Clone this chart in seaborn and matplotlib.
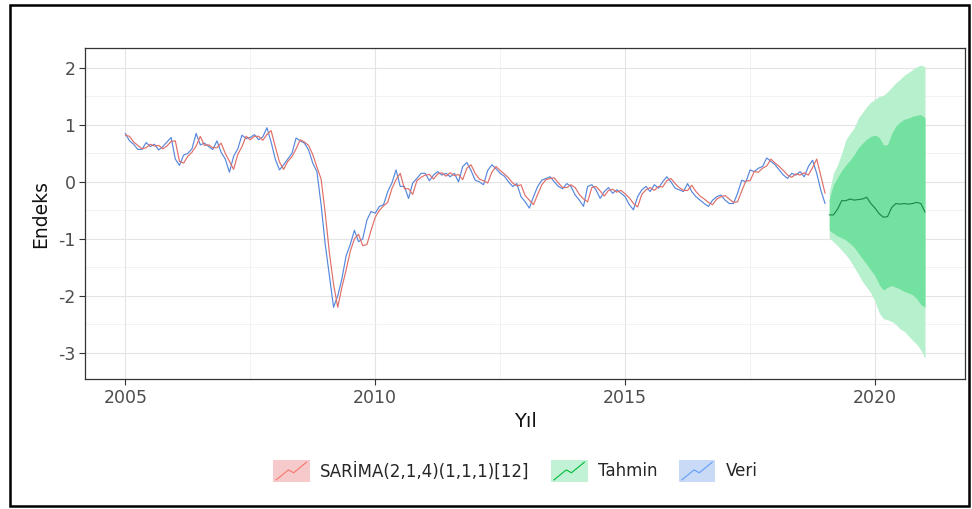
import numpy as np
import pandas as pd
import matplotlib
matplotlib.use("Agg")
import matplotlib.pyplot as plt
import seaborn as sns
from matplotlib.legend_handler import HandlerBase
from matplotlib.patches import Rectangle, Patch
from matplotlib.lines import Line2D
from matplotlib.ticker import MultipleLocator

# ---- data -------------------------------------------------------------
# monthly index values, 2005-01 .. 2019-01
veri = [
    0.85, 0.72, 0.66, 0.57, 0.57, 0.69, 0.62, 0.66, 0.56, 0.62, 0.70, 0.78,
    0.40, 0.29, 0.47, 0.50, 0.58, 0.85, 0.65, 0.68, 0.62, 0.57, 0.72, 0.52,
    0.40, 0.17, 0.45, 0.58, 0.82, 0.76, 0.78, 0.83, 0.74, 0.79, 0.95, 0.70,
    0.40, 0.21, 0.30, 0.40, 0.50, 0.77, 0.72, 0.68, 0.56, 0.33, 0.18, -0.40,
    -1.10, -1.65, -2.20, -2.00, -1.70, -1.30, -1.10, -0.85, -1.05, -1.00, -0.67, -0.52,
    -0.55, -0.43, -0.40, -0.17, -0.02, 0.21, -0.08, -0.08, -0.29, -0.02, 0.06, 0.15,
    0.15, 0.02, 0.12, 0.18, 0.12, 0.15, 0.09, 0.15, 0.00, 0.27, 0.34, 0.20,
    0.03, 0.00, -0.05, 0.20, 0.30, 0.23, 0.15, 0.10, 0.00, -0.08, -0.03, -0.26,
    -0.35, -0.46, -0.26, -0.08, 0.03, 0.06, 0.09, 0.00, -0.08, -0.12, -0.03, -0.08,
    -0.23, -0.32, -0.43, -0.08, -0.05, -0.14, -0.29, -0.17, -0.10, -0.20, -0.14, -0.20,
    -0.26, -0.40, -0.49, -0.26, -0.14, -0.08, -0.17, -0.05, -0.11, 0.00, 0.09, 0.00,
    -0.11, -0.14, -0.17, -0.03, -0.17, -0.26, -0.32, -0.38, -0.43, -0.32, -0.26, -0.23,
    -0.32, -0.38, -0.38, -0.20, 0.03, 0.00, 0.21, 0.18, 0.24, 0.27, 0.42, 0.36,
    0.30, 0.21, 0.12, 0.06, 0.15, 0.12, 0.18, 0.09, 0.27, 0.38, 0.15, -0.15,
    -0.38,
]

# in-sample fitted values of the SARIMA model, same months
sarima = [
    0.82, 0.80, 0.70, 0.64, 0.58, 0.60, 0.66, 0.63, 0.64, 0.58, 0.63, 0.71,
    0.72, 0.36, 0.33, 0.45, 0.52, 0.63, 0.80, 0.64, 0.65, 0.60, 0.60, 0.68,
    0.50, 0.36, 0.22, 0.48, 0.62, 0.80, 0.74, 0.80, 0.80, 0.73, 0.83, 0.90,
    0.62, 0.35, 0.22, 0.36, 0.44, 0.58, 0.74, 0.70, 0.64, 0.48, 0.26, 0.05,
    -0.55, -1.25, -1.80, -2.20, -1.85, -1.55, -1.22, -1.00, -0.92, -1.12, -1.10, -0.85,
    -0.62, -0.50, -0.42, -0.36, -0.12, 0.04, 0.15, -0.12, -0.12, -0.22, 0.02, 0.08,
    0.12, 0.13, 0.05, 0.14, 0.16, 0.10, 0.16, 0.11, 0.13, 0.04, 0.24, 0.30,
    0.15, 0.05, 0.02, -0.02, 0.17, 0.27, 0.20, 0.14, 0.07, -0.02, -0.07, -0.05,
    -0.24, -0.32, -0.40, -0.22, -0.05, 0.04, 0.06, 0.07, -0.02, -0.10, -0.10, -0.05,
    -0.10, -0.22, -0.30, -0.35, -0.10, -0.08, -0.16, -0.25, -0.15, -0.13, -0.18, -0.15,
    -0.21, -0.28, -0.38, -0.44, -0.22, -0.14, -0.10, -0.15, -0.08, -0.09, 0.02, 0.06,
    -0.03, -0.10, -0.15, -0.15, -0.06, -0.17, -0.25, -0.30, -0.36, -0.40, -0.30, -0.26,
    -0.24, -0.30, -0.36, -0.35, -0.16, 0.02, 0.02, 0.18, 0.17, 0.24, 0.28, 0.40,
    0.33, 0.27, 0.20, 0.12, 0.08, 0.14, 0.12, 0.16, 0.12, 0.25, 0.40, 0.10,
    -0.20,
]

# 24-month forecast, 2019-02 .. 2021-01, with 80% and 95% intervals
tahmin = [
    -0.58, -0.58, -0.48, -0.33, -0.33, -0.30, -0.32, -0.31, -0.30, -0.27, -0.38, -0.46,
    -0.56, -0.62, -0.61, -0.45, -0.38, -0.39, -0.38, -0.39, -0.38, -0.36, -0.38, -0.53,
]
alt80 = [
    -0.85, -0.90, -0.95, -0.98, -1.02, -1.08, -1.15, -1.25, -1.35, -1.45, -1.55, -1.65,
    -1.80, -1.90, -1.85, -1.82, -1.85, -1.88, -1.92, -1.95, -1.98, -2.05, -2.15, -2.20,
]
ust80 = [
    -0.31, -0.05, 0.08, 0.20, 0.30, 0.38, 0.48, 0.60, 0.68, 0.75, 0.80, 0.82,
    0.78, 0.65, 0.65, 0.85, 0.98, 1.05, 1.10, 1.12, 1.15, 1.17, 1.18, 1.12,
]
alt95 = [
    -0.98, -1.05, -1.12, -1.20, -1.28, -1.38, -1.50, -1.62, -1.75, -1.85, -1.95, -2.10,
    -2.30, -2.40, -2.42, -2.45, -2.50, -2.58, -2.62, -2.70, -2.78, -2.85, -2.95, -3.10,
]
ust95 = [
    -0.18, 0.15, 0.30, 0.50, 0.74, 0.85, 0.95, 1.12, 1.22, 1.32, 1.40, 1.45,
    1.50, 1.52, 1.58, 1.66, 1.74, 1.80, 1.87, 1.92, 1.97, 2.02, 2.05, 2.02,
]

seri_adlari = ["SARİMA(2,1,4)(1,1,1)[12]", "Tahmin", "Veri"]
x_ticks = [2005, 2010, 2015, 2020]
y_ticks = [-3, -2, -1, 0, 1, 2]


def decimal_years(start, n):
    d = pd.date_range(start, periods=n, freq="MS")
    return d.year + (d.month - 1) / 12.0


t_in = decimal_years("2005-01-01", len(veri))
t_fc = decimal_years("2019-02-01", len(tahmin))

df = pd.concat([
    pd.DataFrame({"Yıl": t_in, "Endeks": veri, "seri": "Veri"}),
    pd.DataFrame({"Yıl": t_in, "Endeks": sarima, "seri": seri_adlari[0]}),
    pd.DataFrame({"Yıl": t_fc, "Endeks": tahmin, "seri": "Tahmin"}),
], ignore_index=True)

# ---- style ------------------------------------------------------------
sns.set_theme(style="white")
plt.rcParams["font.family"] = ["DejaVu Sans"]
plt.rcParams["axes.unicode_minus"] = False

line_cols = {seri_adlari[0]: "#E06E67", "Tahmin": "#1F8A4C", "Veri": "#5587DE"}
key_fill = {seri_adlari[0]: "#F6CACA", "Tahmin": "#C2F2D5", "Veri": "#C8DAF5"}
key_line = {seri_adlari[0]: "#F8766D", "Tahmin": "#00BA38", "Veri": "#619CFF"}

fig = plt.figure(figsize=(9.72, 5.09), dpi=100)
ax = fig.add_axes([0.0878, 0.2554, 0.905, 0.6503])

# forecast intervals
ax.fill_between(t_fc, alt95, ust95, color="#B6F0CC", lw=0, zorder=1)
ax.fill_between(t_fc, alt80, ust80, color="#73E19F", lw=0, zorder=1.5)

sns.lineplot(data=df[df.seri != "Tahmin"], x="Yıl", y="Endeks", hue="seri",
             hue_order=["Veri", seri_adlari[0]], palette=line_cols,
             estimator=None, lw=0.85, legend=False, ax=ax, zorder=2)
sns.lineplot(data=df[df.seri == "Tahmin"], x="Yıl", y="Endeks",
             color=line_cols["Tahmin"], estimator=None, lw=0.85,
             legend=False, ax=ax, zorder=3)

ax.set_xlim(2004.2, 2021.8)
ax.set_ylim(-3.46, 2.35)
ax.set_xticks(x_ticks)
ax.set_yticks(y_ticks)
ax.xaxis.set_minor_locator(MultipleLocator(2.5))
ax.yaxis.set_minor_locator(MultipleLocator(0.5))
ax.grid(which="major", color="#E4E4E4", lw=0.8, zorder=0)
ax.grid(which="minor", color="#EDEDED", lw=0.5, zorder=0)
ax.set_axisbelow(True)
for s in ax.spines.values():
    s.set_color("#333333")
    s.set_linewidth(0.9)
ax.tick_params(which="major", direction="out", length=4, width=0.8,
               color="#333333", labelcolor="#4D4D4D", labelsize=12.5, pad=3,
               bottom=True, left=True)
ax.tick_params(which="minor", length=0)
ax.set_xlabel("Yıl", fontsize=14, color="#111111", labelpad=4)
ax.set_ylabel("Endeks", fontsize=13.5, color="#111111", labelpad=6)


# legend keys: tinted box with a small rising line
class KeyHandler(HandlerBase):
    def create_artists(self, legend, orig_handle, xdescent, ydescent,
                       width, height, fontsize, trans):
        box = Rectangle((-xdescent, -ydescent), width, height,
                        facecolor=orig_handle.get_facecolor(),
                        edgecolor="none", transform=trans)
        xs = np.array([0.08, 0.42, 0.56, 0.92]) * width - xdescent
        ys = np.array([0.10, 0.55, 0.42, 0.90]) * height - ydescent
        ln = Line2D(xs, ys, color=orig_handle.get_edgecolor(), lw=0.8,
                    transform=trans)
        return [box, ln]


handles = [Patch(facecolor=key_fill[n], edgecolor=key_line[n]) for n in seri_adlari]
fig.legend(handles, seri_adlari, handler_map={Patch: KeyHandler()},
           loc="center", bbox_to_anchor=(0.530, 1 - 471 / 509), ncol=3,
           frameon=False, fontsize=12, handlelength=2.2, handleheight=1.7,
           handletextpad=0.6, columnspacing=1.3)

# outer frame
fig.add_artist(Rectangle((10 / 972, 1 - 506 / 509), 959 / 972, 501 / 509,
                         transform=fig.transFigure, fill=False,
                         edgecolor="black", lw=1.8))

fig.savefig("out.png", dpi=100, facecolor="white")
